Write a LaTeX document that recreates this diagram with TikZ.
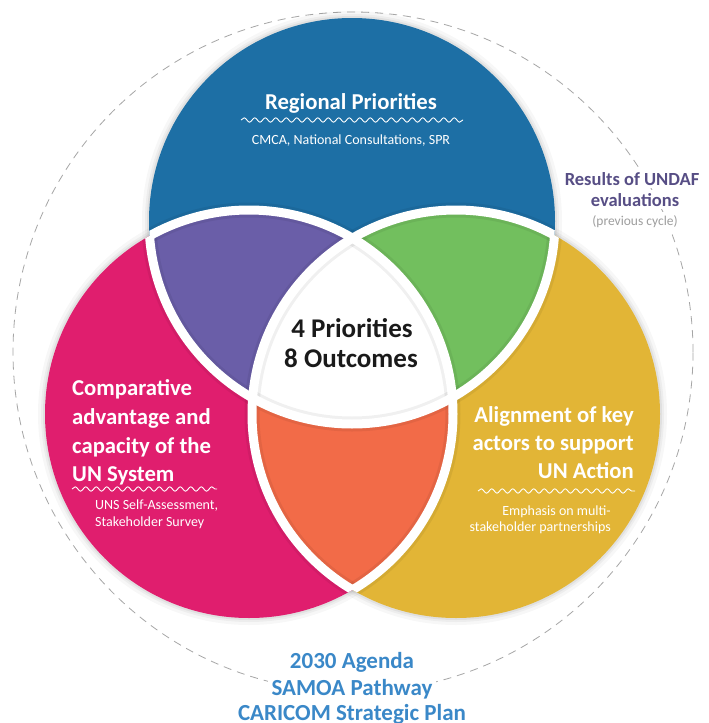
\documentclass[tikz,border=0pt]{standalone}
\usepackage{fontspec}
\setmainfont{Carlito}
\usetikzlibrary{decorations.pathmorphing}
\definecolor{cblue}{HTML}{1D6FA5}
\definecolor{cmag}{HTML}{E01E6E}
\definecolor{cyel}{HTML}{E2B536}
\definecolor{cpur}{HTML}{6A5EA8}
\definecolor{cgrn}{HTML}{72BF5E}
\definecolor{cora}{HTML}{F26B48}
\definecolor{ctxtblue}{HTML}{3A88C8}
\definecolor{cres}{HTML}{574E85}
\definecolor{cdark}{HTML}{1A1A1A}
\tikzset{
  wave/.style={white, line width=0.9pt, decorate, decoration={snake, amplitude=2.2pt, segment length=10.5pt}},
  gapline/.style={white, line width=9pt},
  halo/.style={black, opacity=0.06, line width=15pt},
  bigtxt/.style={font=\bfseries\fontsize{22.7}{27}\selectfont, text=white, inner sep=0pt},
  subtxt/.style={font=\fontsize{14}{17}\selectfont, text=white, inner sep=0pt},
  centtxt/.style={font=\bfseries\fontsize{27}{32}\selectfont, text=cdark, inner sep=0pt},
  restxt/.style={font=\bfseries\fontsize{18.5}{22}\selectfont, text=cres, fill=white, inner sep=3pt},
  prevtxt/.style={font=\fontsize{13.5}{16}\selectfont, text=black!38, fill=white, inner sep=3pt},
  bottxt/.style={font=\bfseries\fontsize{23}{27}\selectfont, text=ctxtblue, fill=white, inner xsep=4pt, inner ysep=1pt},
  dashring/.style={black!35, line width=0.8pt, dash pattern=on 8pt off 6pt}
}
\begin{document}
\begin{tikzpicture}[x=1pt,y=-1pt]
\useasboundingbox (0,0) rectangle (709,723);
\fill[white] (0,0) rectangle (709,723);
\def\rt{203pt}
\def\rlr{204pt}
\coordinate (cT) at (352,221);
\coordinate (cL) at (249,414);
\coordinate (cR) at (456,414);
\coordinate (cO) at (353,352);

% outer dashed ring
\draw[dashring] (cO) circle[radius=340pt];

% soft outer shadow
\foreach \d/\o in {7/0.03,4/0.04,2/0.05}{
  \fill[black, opacity=\o] (cT) circle[radius=203pt+\d pt];
  \fill[black, opacity=\o] (cL) circle[radius=204pt+\d pt];
  \fill[black, opacity=\o] (cR) circle[radius=204pt+\d pt];
}

% base circles
\fill[cmag] (cL) circle[radius=\rlr];
\fill[cyel] (cR) circle[radius=\rlr];
\fill[cblue] (cT) circle[radius=\rt];
% pairwise intersections
\begin{scope}
  \clip (cT) circle[radius=\rt];
  \fill[cpur] (cL) circle[radius=\rlr];
  \fill[cgrn] (cR) circle[radius=\rlr];
\end{scope}
\begin{scope}
  \clip (cL) circle[radius=\rlr];
  \fill[cora] (cR) circle[radius=\rlr];
  \begin{scope}
    \clip (cR) circle[radius=\rlr];
    \fill[white] (cT) circle[radius=\rt];
  \end{scope}
\end{scope}

% shaded halos along the gaps
\begin{scope}
  \clip (cL) circle[radius=\rlr] (cR) circle[radius=\rlr];
  \draw[halo] (cT) circle[radius=\rt];
\end{scope}
\begin{scope}
  \clip (cT) circle[radius=\rt] (cR) circle[radius=\rlr];
  \draw[halo] (cL) circle[radius=\rlr];
\end{scope}
\begin{scope}
  \clip (cT) circle[radius=\rt] (cL) circle[radius=\rlr];
  \draw[halo] (cR) circle[radius=\rlr];
\end{scope}
% white gaps
\begin{scope}
  \clip (cL) circle[radius=\rlr] (cR) circle[radius=\rlr];
  \draw[gapline] (cT) circle[radius=\rt];
\end{scope}
\begin{scope}
  \clip (cT) circle[radius=\rt] (cR) circle[radius=\rlr];
  \draw[gapline] (cL) circle[radius=\rlr];
\end{scope}
\begin{scope}
  \clip (cT) circle[radius=\rt] (cL) circle[radius=\rlr];
  \draw[gapline] (cR) circle[radius=\rlr];
\end{scope}

% top circle text
\node[bigtxt, anchor=base] (rp) at (351,109) {Regional Priorities};
\draw[wave] (241,120) -- (463,120);
\node[subtxt, anchor=base] (rps) at (351,144) {CMCA, National Consultations, SPR};

% centre text
\node[centtxt, anchor=base] (p4) at (352,337) {4 Priorities};
\node[centtxt, anchor=base] (o8) at (351,367) {8 Outcomes};

% left circle text
\node[bigtxt, anchor=base west] (l1) at (72,395) {Comparative};
\node[bigtxt, anchor=base west] (l2) at (72,424) {advantage and};
\node[bigtxt, anchor=base west] (l3) at (72,453) {capacity of the};
\node[bigtxt, anchor=base west] (l4) at (72,481) {UN System};
\draw[wave] (72,489) -- (217,489);
\node[subtxt, anchor=base west] (l5) at (95,509) {UNS Self-Assessment,};
\node[subtxt, anchor=base west] (l6) at (95,526) {Stakeholder Survey};

% right circle text
\node[bigtxt, anchor=base east] (r1) at (634,422) {Alignment of key};
\node[bigtxt, anchor=base east] (r2) at (634,450) {actors to support};
\node[bigtxt, anchor=base east] (r3) at (634,478) {UN Action};
\draw[wave] (478,491) -- (635,491);
\node[subtxt, anchor=base east] (r4) at (611,515) {Emphasis on multi-};
\node[subtxt, anchor=base east] (r5) at (611,531) {stakeholder partnerships};

% results text
\node[restxt, anchor=base] (res1) at (632,185) {Results of UNDAF};
\node[restxt, anchor=base] (res2) at (635,206) {evaluations};
\node[prevtxt, anchor=base] (res3) at (635,225) {(previous cycle)};

% bottom text
\node[bottxt, anchor=base] (b1) at (352,668) {2030 Agenda};
\node[bottxt, anchor=base] (b2) at (352,695) {SAMOA Pathway};
\node[bottxt, anchor=base] (b3) at (352,720) {CARICOM Strategic Plan};
\end{tikzpicture}
\end{document}
